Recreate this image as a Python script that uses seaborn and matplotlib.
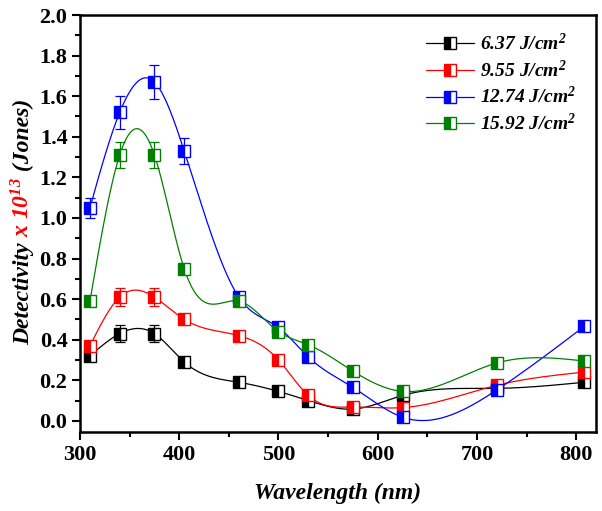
import numpy as np
import pandas as pd
import matplotlib
matplotlib.use("Agg")
import matplotlib.pyplot as plt
import seaborn as sns

# ---- data ----
wavelength = [310, 340, 375, 405, 460, 500, 530, 575, 625, 720, 808]
d_637 = [0.32, 0.43, 0.43, 0.29, 0.19, 0.145, 0.10, 0.058, 0.125, 0.16, 0.19]
d_955 = [0.37, 0.61, 0.61, 0.50, 0.42, 0.30, 0.125, 0.068, 0.065, 0.175, 0.24]
d_1274 = [1.05, 1.52, 1.67, 1.33, 0.61, 0.46, 0.315, 0.165, 0.018, 0.152, 0.465]
d_1592 = [0.59, 1.31, 1.31, 0.75, 0.59, 0.44, 0.375, 0.245, 0.145, 0.285, 0.295]
e_637 = [0.02, 0.04, 0.04, 0.015, 0.01, 0.01, 0.01, 0.01, 0.01, 0.01, 0.01]
e_955 = [0.02, 0.045, 0.045, 0.025, 0.01, 0.01, 0.01, 0.01, 0.01, 0.01, 0.01]
e_1274 = [0.05, 0.08, 0.085, 0.065, 0.015, 0.01, 0.01, 0.01, 0.01, 0.01, 0.01]
e_1592 = [0.02, 0.065, 0.065, 0.02, 0.01, 0.01, 0.01, 0.01, 0.01, 0.01, 0.01]
labels = ["6.37 J/cm$^{2}$", "9.55 J/cm$^{2}$", "12.74 J/cm$^{2}$", "15.92 J/cm$^{2}$"]
colors = ["#000000", "#ff0000", "#0000ff", "#008000"]
x_ticks = [300, 400, 500, 600, 700, 800]
y_ticks = [0.0, 0.2, 0.4, 0.6, 0.8, 1.0, 1.2, 1.4, 1.6, 1.8, 2.0]

series = [d_637, d_955, d_1274, d_1592]
errors = [e_637, e_955, e_1274, e_1592]


def natural_spline(x, y, xs):
    x = np.asarray(x, float)
    y = np.asarray(y, float)
    n = len(x)
    h = np.diff(x)
    A = np.zeros((n, n))
    r = np.zeros(n)
    A[0, 0] = 1
    A[-1, -1] = 1
    for i in range(1, n - 1):
        A[i, i - 1] = h[i - 1]
        A[i, i] = 2 * (h[i - 1] + h[i])
        A[i, i + 1] = h[i]
        r[i] = 6 * ((y[i + 1] - y[i]) / h[i] - (y[i] - y[i - 1]) / h[i - 1])
    M = np.linalg.solve(A, r)
    idx = np.clip(np.searchsorted(x, xs) - 1, 0, n - 2)
    x0, x1 = x[idx], x[idx + 1]
    hh = x1 - x0
    a = (x1 - xs) / hh
    b = (xs - x0) / hh
    return (a * y[idx] + b * y[idx + 1]
            + ((a ** 3 - a) * M[idx] + (b ** 3 - b) * M[idx + 1]) * hh ** 2 / 6)


sns.set_style("ticks")
plt.rcParams["font.family"] = ["Liberation Serif", "DejaVu Serif"]
plt.rcParams["mathtext.fontset"] = "custom"
plt.rcParams["mathtext.rm"] = "Liberation Serif:bold:italic"
plt.rcParams["mathtext.it"] = "Liberation Serif:bold:italic"
plt.rcParams["mathtext.bf"] = "Liberation Serif:bold:italic"
for key in ["text.color", "axes.edgecolor", "axes.labelcolor",
            "xtick.color", "ytick.color"]:
    plt.rcParams[key] = "black"

fig = plt.figure(figsize=(6.02, 5.11), dpi=100)
ax = fig.add_axes([80 / 602, 1 - 432 / 511, 516 / 602, 417 / 511])

xs = np.linspace(wavelength[0], wavelength[-1], 600)
rows = []
for lab, ys in zip(labels, series):
    for xv, yv in zip(xs, natural_spline(wavelength, ys, xs)):
        rows.append({"x": xv, "y": yv, "series": lab})
curves = pd.DataFrame(rows)

sns.lineplot(data=curves, x="x", y="y", hue="series", palette=colors,
             hue_order=labels, estimator=None, sort=False, linewidth=0.9,
             legend=False, ax=ax, zorder=2)

handles = []
for lab, ys, es, c in zip(labels, series, errors, colors):
    ax.errorbar(wavelength, ys, yerr=es, fmt="none", ecolor=c, elinewidth=0.9,
                capsize=3.5, capthick=0.9, zorder=3)
    ax.plot(wavelength, ys, ls="none", marker="s", markersize=9,
            fillstyle="left", markerfacecolor=c, markerfacecoloralt="white",
            markeredgecolor=c, markeredgewidth=1.0, zorder=4)
    h, = ax.plot([], [], color=c, lw=0.9, marker="s", markersize=9,
                 fillstyle="left", markerfacecolor=c, markerfacecoloralt="white",
                 markeredgecolor=c, markeredgewidth=1.0)
    handles.append(h)

ax.set_xlim(300, 820)
ax.set_ylim(-0.055, 2.0)
ax.set_xticks(x_ticks)
ax.set_yticks(y_ticks)
ax.set_xticklabels([str(v) for v in x_ticks])
ax.set_yticklabels([f"{v:.1f}" for v in y_ticks])
ax.xaxis.set_minor_locator(matplotlib.ticker.MultipleLocator(50))
ax.yaxis.set_minor_locator(matplotlib.ticker.MultipleLocator(0.1))
ax.tick_params(which="major", direction="out", length=6, width=1.5,
               labelsize=16, pad=3, colors="black")
ax.tick_params(which="minor", direction="out", length=3.5, width=1.5,
               colors="black")
for lbl in ax.get_xticklabels() + ax.get_yticklabels():
    lbl.set_fontweight("bold")
for sp in ax.spines.values():
    sp.set_linewidth(1.8)
    sp.set_visible(True)
    sp.set_color("black")
ax.set_xlabel("")
ax.set_ylabel("")

fig.text((80 + 596) / 2 / 602, 1 - 493 / 511, "Wavelength (nm)",
         ha="center", va="center", fontsize=17, fontweight="bold",
         fontstyle="italic")

leg = ax.legend(handles, labels, loc="upper right", frameon=False,
                fontsize=14, handlelength=2.5, handletextpad=0.3,
                labelspacing=0.28, bbox_to_anchor=(0.985, 0.985),
                borderaxespad=0.2)
for t in leg.get_texts():
    t.set_fontweight("bold")
    t.set_fontstyle("italic")

# multicolored rotated y label
fig.canvas.draw()
renderer = fig.canvas.get_renderer()
pieces = [("Detectivity ", "black"), ("x 10$^{13}$", "red"), (" (Jones)", "black")]
base_x = 29 / 602
texts = []
lengths = []
for s, c in pieces:
    t = fig.text(base_x, 0.5, s, rotation=90, rotation_mode="anchor",
                 ha="left", va="baseline", fontsize=17, fontweight="bold",
                 fontstyle="italic", color=c)
    texts.append(t)
    lengths.append(t.get_window_extent(renderer).height)
total = sum(lengths)
center_y = 511 - 222
start = center_y - total / 2
for t, L in zip(texts, lengths):
    t.set_position((base_x, start / 511))
    start += L

fig.savefig("out.png", dpi=100)
